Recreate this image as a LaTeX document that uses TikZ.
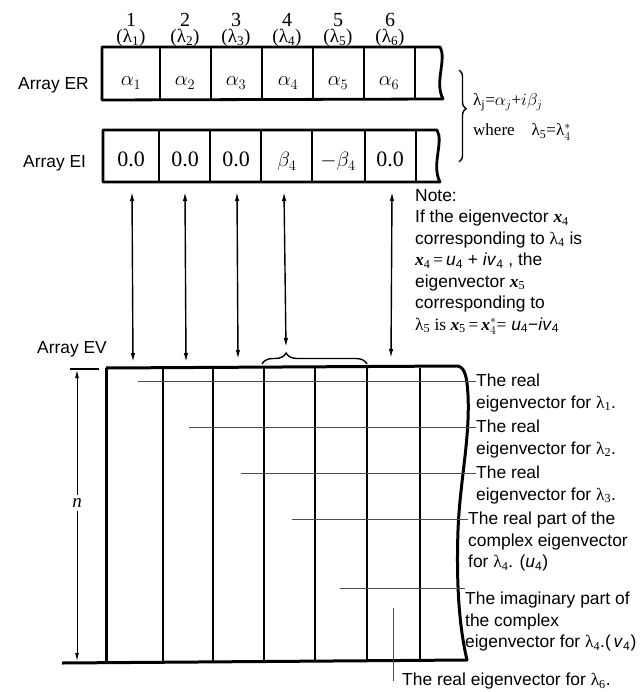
\documentclass[tikz,border=0pt]{standalone}
\usepackage{fontspec}
\setmainfont{Liberation Serif}
\newfontfamily\arialfont{Liberation Sans}
\usetikzlibrary{decorations.pathreplacing,arrows.meta,calc}
\definecolor{leadgray}{HTML}{4D4D4D}
\newcommand{\lam}[1]{{\rmfamily λ\textsubscript{#1}}}
\newcommand{\bx}[1]{{\rmfamily\bfseries\itshape x}\textsubscript{\rmfamily #1}}

\begin{document}
\begin{tikzpicture}[x=1pt,y=-1pt,
  sans/.style={font=\arialfont\fontsize{17.4}{21.5}\selectfont, align=left, inner sep=0pt},
  cell/.style={font=\fontsize{22}{24}\selectfont, anchor=base, inner sep=0pt},
  hdr/.style={font=\fontsize{19}{22}\selectfont, anchor=base, inner sep=0pt},
  framebox/.style={line width=2.8pt, line join=round},
  divider/.style={line width=2.1pt},
  column/.style={line width=2.6pt},
  leader/.style={leadgray, line width=0.9pt},
  vecarrow/.style={{Latex[length=9pt,width=4.5pt]}-{Latex[length=9pt,width=4.5pt]}, line width=1.4pt}]
 \useasboundingbox (0,0) rectangle (642,692);

 % column headers
 \foreach \i/\x in {1/131,2/185,3/236,4/287,5/338,6/390} {
  \node[hdr, font=\fontsize{20}{22}\selectfont] (num\i) at (\x,27) {\i};
  \node[hdr] (lam\i) at (\x,43) {(λ\textsubscript{\i})};
 }

 % array ER
 \node[sans, anchor=base west] (er) at (18,90) {Array ER};
 \draw[framebox] (102,47) -- (440,47) .. controls (447,60) and (434,82) .. (443,99) -- (102,100) -- cycle;
 \foreach \x in {160,211,262,313,364,415} \draw[divider] (\x,47) -- (\x,100);
 \foreach \i/\x in {1/131,2/185,3/236,4/288,5/338,6/389}
  \node[cell] (a\i) at (\x,86) {$\alpha_{\i}$};

 % array EI
 \node[sans, anchor=base west] (ei) at (23,168) {Array EI};
 \draw[framebox] (103,130) -- (437,130) .. controls (444,142) and (431,165) .. (440,182) -- (103,182) -- cycle;
 \foreach \x in {159,210,261,312,365,416} \draw[divider] (\x,130) -- (\x,182);
 \node[cell] (b1) at (131,167) {0.0};
 \node[cell] (b2) at (185,167) {0.0};
 \node[cell] (b3) at (236,167) {0.0};
 \node[cell] (b4) at (287,167) {$\beta_4$};
 \node[cell] (b5) at (338,167) {$-\beta_4$};
 \node[cell] (b6) at (390,167) {0.0};

 % relation between ER and EI
 \draw[line width=1.4pt, decorate, decoration={brace, amplitude=7pt, aspect=0.42}] (459,70) -- (459,162);
 \node[font=\fontsize{17}{20}\selectfont, anchor=base west, inner sep=0pt] (rel) at (473,106) {λ\textsubscript{j}=$\alpha_j$+$i\beta_j$};
 \node[font=\fontsize{17}{20}\selectfont, anchor=base west, inner sep=0pt] (conj) at (473,136) {where\quad λ\textsubscript{5}=λ$^*_4$};

 \node[sans, anchor=north west] (note) at (415,189) {Note:\\
  If the eigenvector \bx{4}\\
  corresponding to \lam{4} is\\
  \bx{4}\,{\rmfamily =}\,\textit{u}\textsubscript{4} + \textit{iv}\textsubscript{4} , the\\
  eigenvector \bx{5}\\
  corresponding to\\
  {\rmfamily λ\textsubscript{5} is }\bx{5}\,{\rmfamily =}\,{\rmfamily\bfseries\itshape x}$^*_4${\rmfamily =} \textit{u}\textsubscript{4}−\textit{iv}\textsubscript{4}};

 % arrows to array EV
 \coordinate (t1) at (132,192); \coordinate (e1) at (133,362);
 \coordinate (t2) at (185,192); \coordinate (e2) at (186,362);
 \coordinate (t3) at (237,192); \coordinate (e3) at (238,359);
 \coordinate (t4) at (284,192); \coordinate (e4) at (286,347);
 \coordinate (t6) at (392,192); \coordinate (e6) at (391,358);
 \foreach \i in {1,2,3,4,6} \draw[vecarrow] (t\i) -- (e\i);
 \draw[line width=1.4pt, decorate, decoration={brace, amplitude=11pt, aspect=0.23}] (262,364) -- (367,364);

 % array EV
 \node[sans, anchor=base west] (ev) at (37,353) {Array EV};
 \draw[framebox, line width=3pt] (106,368) -- (106,662);
 \draw[framebox, line width=3pt] (106,368) -- (458,366) .. controls (466,368) and (467,380) .. (468,395)
  .. controls (470,440) and (460,480) .. (458,530) .. controls (456,590) and (460,630) .. (467,660) -- (62,663);
 \foreach \x in {163,213,264,315,367,420} \draw[column] (\x,368) -- (\x,662);

 % dimension n
 \draw[line width=1.6pt] (70,369) -- (99,369);
 \node[font=\fontsize{19}{20}\selectfont\itshape, fill=white, inner sep=3pt] (dimn) at (77,503) {n};
 \coordinate (dt) at (77,370); \coordinate (db) at (77,661);
 \draw[line width=1pt, -{Latex[length=8pt,width=4pt]}] (dimn) -- (dt);
 \draw[line width=1pt, -{Latex[length=8pt,width=4pt]}] (dimn) -- (db);

 % labels for the columns
 \node[sans, anchor=north west] (l1) at (476,374) {The real\\eigenvector for \lam{1}.};
 \node[sans, anchor=north west] (l2) at (476,420) {The real\\eigenvector for \lam{2}.};
 \node[sans, anchor=north west] (l3) at (476,466) {The real\\eigenvector for \lam{3}.};
 \node[sans, anchor=north west] (l4) at (468,512) {The real part of the\\complex eigenvector\\for \lam{4}. (\textit{u}\textsubscript{4})};
 \node[sans, anchor=north west] (l5) at (465,592) {The imaginary part of\\the complex\\eigenvector for \lam{4}.(\,\textit{v}\textsubscript{4})};
 \node[sans, anchor=north west] (l6) at (402,673) {The real eigenvector for \lam{6}.};
 \coordinate (s1) at (138,381);
 \coordinate (s2) at (189,427);
 \coordinate (s3) at (241,473);
 \coordinate (s4) at (292,519);
 \coordinate (s5) at (340,588);
 \coordinate (s6) at (393,608); \coordinate (f6) at (393,681);
 \foreach \i in {1,...,5} \draw[leader] (s\i) -- (s\i -| l\i.west);
 \draw[leader] (s6) -- (f6);
\end{tikzpicture}
\end{document}
